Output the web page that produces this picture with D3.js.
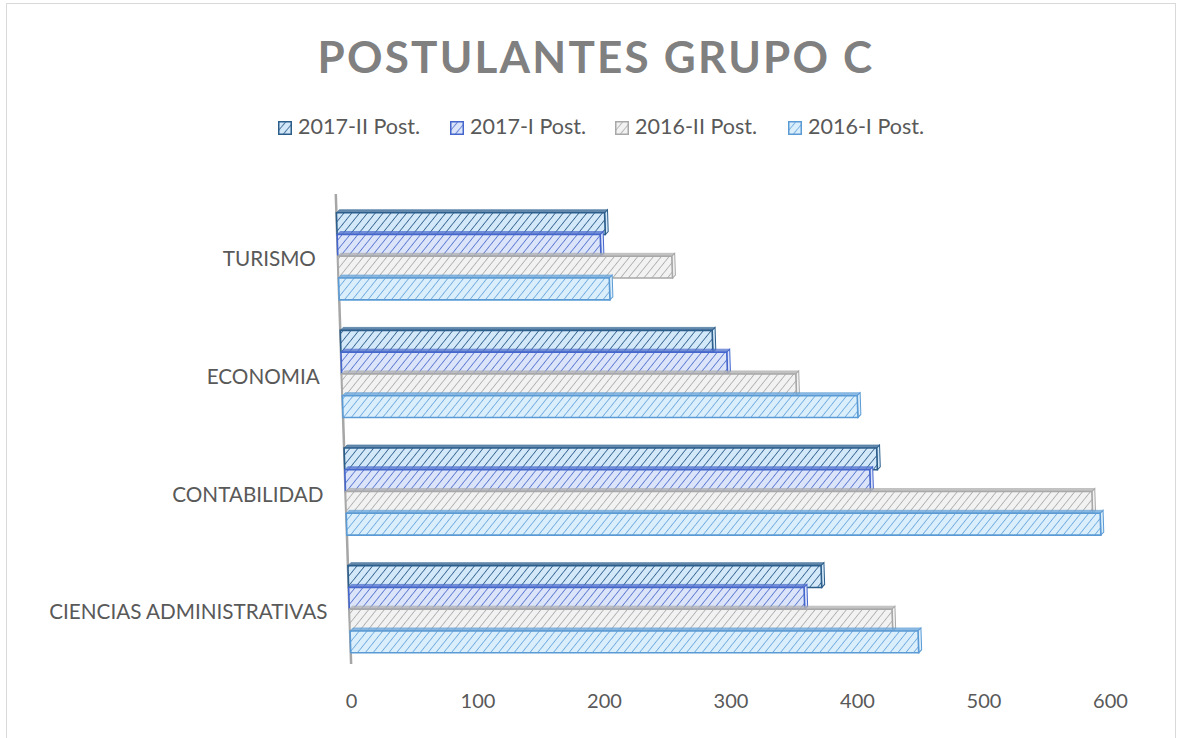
<!DOCTYPE html>
<html>
<head>
<meta charset="utf-8">
<script src="https://cdn.jsdelivr.net/npm/d3@7"></script>
<style>
  body { margin: 0; background: #fff; }
  text { font-family: Lato, "Open Sans", sans-serif; }
</style>
</head>
<body>
<div id="chart"></div>
<script>
// Chart data
const categories = ['TURISMO', 'ECONOMIA', 'CONTABILIDAD', 'CIENCIAS ADMINISTRATIVAS'];
const seriesNames = ['2017-II Post.', '2017-I Post.', '2016-II Post.', '2016-I Post.'];
const post2017II = [212, 294, 421, 374];
const post2017I = [208, 305, 415, 360];
const post2016II = [264, 359, 590, 429];
const post2016I = [214, 407, 596, 449];
const xTicks = [0, 100, 200, 300, 400, 500, 600];

const seriesValues = [post2017II, post2017I, post2016II, post2016I];

const styles = [
  { bg: '#d3e8f8', line: '#2f5f8c', stroke: '#2c5e8c', top: '#3d6c98' },
  { bg: '#dbe4f9', line: '#5573cf', stroke: '#4566cc', top: '#5a78d2' },
  { bg: '#f2f2f2', line: '#ababab', stroke: '#a8a8a8', top: '#b5b5b5' },
  { bg: '#dbeefb', line: '#6aa8de', stroke: '#5b9bd5', top: '#6ea9dd' }
];

const width = 1180, height = 738;
const baseX = 351, baseY = 660;
const slope = 15 / 460; // axis lean, px of x per px of y

const svg = d3.select('#chart')
  .append('svg')
  .attr('width', width)
  .attr('height', height);

// Hatch patterns
const defs = svg.append('defs');
styles.forEach((s, i) => {
  const p = defs.append('pattern')
    .attr('id', 'hatch' + i)
    .attr('patternUnits', 'userSpaceOnUse')
    .attr('width', 6)
    .attr('height', 6)
    .attr('patternTransform', 'rotate(40)');
  p.append('rect').attr('width', 6).attr('height', 6).attr('fill', s.bg);
  p.append('line')
    .attr('x1', 0).attr('y1', 0).attr('x2', 0).attr('y2', 6)
    .attr('stroke', s.line).attr('stroke-width', 1.6);
});

// Chart border
svg.append('rect')
  .attr('x', 6.5).attr('y', 3.5)
  .attr('width', 1169).attr('height', 740)
  .attr('fill', 'none')
  .attr('stroke', '#d9d9d9');

// Title
svg.append('text')
  .attr('x', 596)
  .attr('y', 73)
  .attr('text-anchor', 'middle')
  .style('font-size', '44px')
  .style('font-weight', 'bold')
  .style('letter-spacing', '2.2px')
  .style('fill', '#808080')
  .text('POSTULANTES GRUPO C');

// Legend
const legendX = [278, 450, 615, 788];
const legend = svg.append('g');
seriesNames.forEach((name, i) => {
  const row = legend.append('g').attr('transform', `translate(${legendX[i]}, 121)`);
  row.append('rect')
    .attr('x', 0.75).attr('y', 0.75)
    .attr('width', 12.5).attr('height', 12.5)
    .attr('fill', `url(#hatch${i})`)
    .attr('stroke', styles[i].stroke)
    .attr('stroke-width', 1.5);
  row.append('text')
    .attr('x', 20)
    .attr('y', 13)
    .style('font-size', '21.5px')
    .style('fill', '#595959')
    .text(name);
});

// Scales
const x = d3.scaleLinear().domain([0, 600]).range([0, 759]);

const y = d3.scaleBand()
  .domain(categories)
  .range([197.5, 668])
  .paddingInner(0.26)
  .paddingOuter(0.13);

const ySub = d3.scaleBand()
  .domain(seriesNames)
  .range([0, y.bandwidth()])
  .padding(0);

// Plot group, leaned like the 3D axis
const plot = svg.append('g')
  .attr('transform', `translate(${baseX},${baseY}) skewX(${Math.atan(slope) * 180 / Math.PI})`);

// Axis wall line
plot.append('line')
  .attr('x1', 0).attr('x2', 0)
  .attr('y1', 194 - baseY).attr('y2', 664 - baseY)
  .attr('stroke', '#a6a6a6')
  .attr('stroke-width', 2.5);

// Bars
const depth = 3;
categories.forEach((cat, ci) => {
  seriesNames.forEach((name, si) => {
    const v = seriesValues[si][ci];
    const y0 = y(cat) + ySub(name) - baseY;
    const h = ySub.bandwidth();
    const w = x(v);
    const s = styles[si];
    const g = plot.append('g');
    // top face
    g.append('path')
      .attr('d', `M0,${y0} L${depth},${y0 - depth} L${w + depth},${y0 - depth} L${w},${y0} Z`)
      .attr('fill', s.top)
      .attr('opacity', 0.8)
      .attr('stroke', s.stroke)
      .attr('stroke-width', 0.8);
    // right face
    g.append('path')
      .attr('d', `M${w},${y0} L${w + depth},${y0 - depth} L${w + depth},${y0 + h - depth} L${w},${y0 + h} Z`)
      .attr('fill', s.bg)
      .attr('stroke', s.stroke)
      .attr('stroke-width', 1);
    // front face
    g.append('rect')
      .attr('x', 0)
      .attr('y', y0)
      .attr('width', w)
      .attr('height', h)
      .attr('fill', `url(#hatch${si})`)
      .attr('stroke', s.stroke)
      .attr('stroke-width', 1.6);
  });
});

// Category labels
categories.forEach(cat => {
  const cy = y(cat) + y.bandwidth() / 2 + 3;
  svg.append('text')
    .attr('x', baseX + slope * (cy - baseY) - 22)
    .attr('y', cy + 7)
    .attr('text-anchor', 'end')
    .style('font-size', '20.7px')
    .style('fill', '#595959')
    .text(cat);
});

// X axis tick labels
const xAxis = svg.append('g')
  .attr('transform', `translate(${baseX},689)`)
  .call(d3.axisBottom(x).tickValues(xTicks).tickSize(0).tickPadding(0));
xAxis.select('.domain').remove();
xAxis.selectAll('text')
  .style('font-family', 'Lato, "Open Sans", sans-serif')
  .style('font-size', '20px')
  .style('fill', '#595959')
  .attr('dy', '0.95em');
</script>
</body>
</html>
